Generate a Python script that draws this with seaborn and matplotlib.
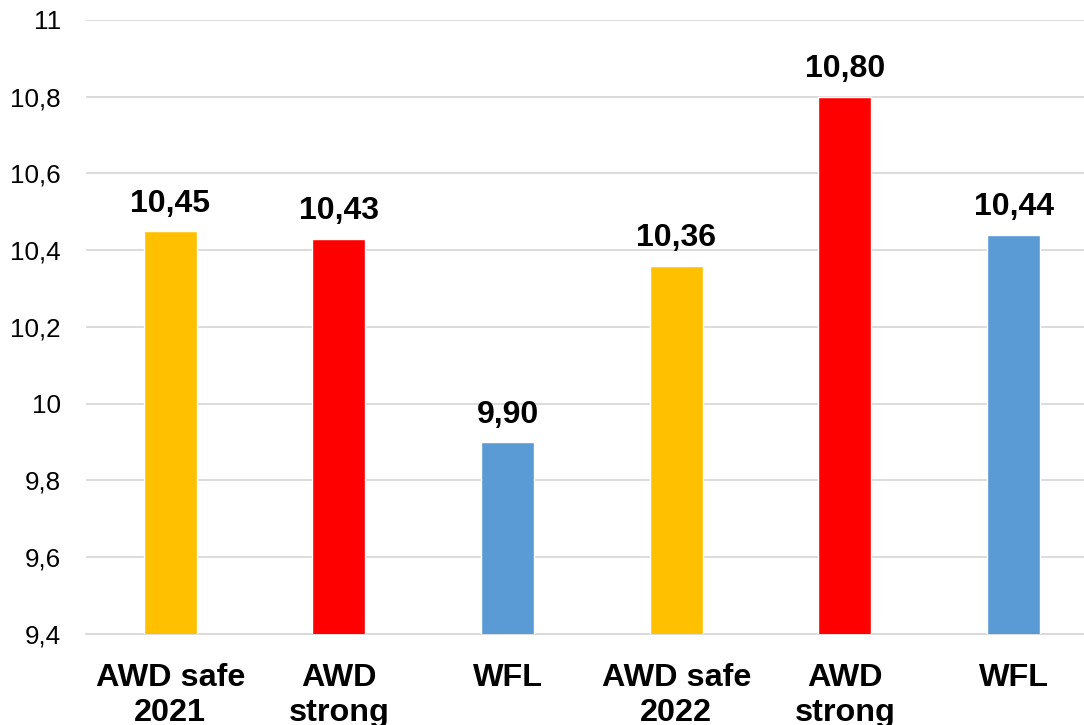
import matplotlib
matplotlib.use("Agg")
import matplotlib.pyplot as plt
import seaborn as sns
import pandas as pd

# Chart data
labels = ["AWD safe\n2021", "AWD\nstrong", "WFL", "AWD safe\n2022", "AWD\nstrong", "WFL"]
values = [10.45, 10.43, 9.90, 10.36, 10.80, 10.44]
colors = ["#FFC000", "#FF0000", "#5B9BD5", "#FFC000", "#FF0000", "#5B9BD5"]
y_ticks = [9.4, 9.6, 9.8, 10.0, 10.2, 10.4, 10.6, 10.8, 11.0]
y_tick_labels = ["9,4", "9,6", "9,8", "10", "10,2", "10,4", "10,6", "10,8", "11"]

sns.set_theme(style="white")
plt.rcParams["font.family"] = ["Liberation Sans", "DejaVu Sans"]

df = pd.DataFrame({"pos": list(range(len(values))), "value": values})

fig = plt.figure(figsize=(10.84, 7.25), dpi=100)
ax = fig.add_axes([86 / 1084, 1 - 634 / 725, 1 - 86 / 1084, (634 - 20) / 725])

sns.barplot(data=df, x="pos", y="value", hue="pos", palette=colors,
            width=0.314, legend=False, ax=ax, saturation=1, zorder=3)

ax.set_ylim(9.4, 11.0)
ax.set_xlim(-0.5, 5.418)
ax.set_yticks(y_ticks)
ax.set_yticklabels(y_tick_labels, fontsize=18.7, color="#000000")
ax.set_xticks(range(len(labels)))
ax.set_xticklabels(labels, fontsize=23.3, fontweight="bold", color="#000000",
                   linespacing=1.2)
ax.tick_params(axis="x", length=0, pad=21)
ax.tick_params(axis="y", length=0, pad=18)
ax.set_xlabel("")
ax.set_ylabel("")

ax.yaxis.grid(True, color="#D9D9D9", linewidth=1.3, zorder=0)
for side in ["left", "right", "top"]:
    ax.spines[side].set_visible(False)
ax.spines["bottom"].set_color("#D9D9D9")
ax.spines["bottom"].set_linewidth(1.3)

for container in ax.containers:
    vals = container.datavalues
    ax.bar_label(container, labels=[f"{v:.2f}".replace(".", ",") for v in vals],
                 padding=9, fontsize=23, fontweight="bold", color="#000000")

fig.savefig("out.png", dpi=100)
